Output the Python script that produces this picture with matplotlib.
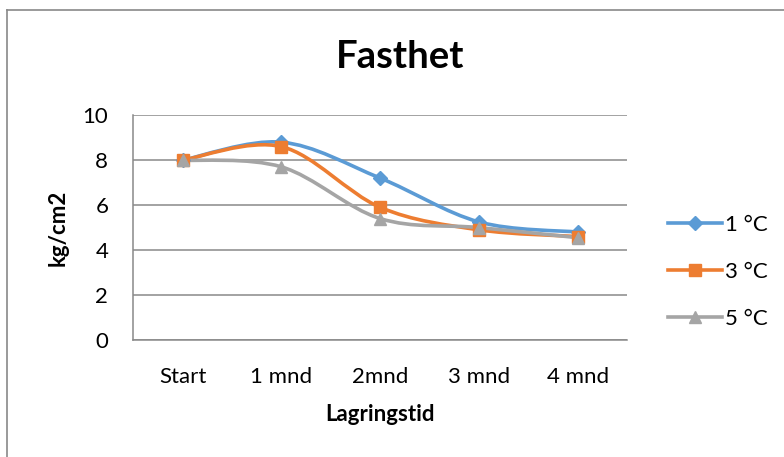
import matplotlib.pyplot as plt
import numpy as np
from matplotlib.path import Path
from matplotlib.patches import PathPatch
from matplotlib.lines import Line2D

plt.rcParams['font.family'] = ['Lato', 'DejaVu Sans']

categories = ['Start', '1 mnd', '2mnd', '3 mnd', '4 mnd']
temp_1 = [8.0, 8.8, 7.2, 5.25, 4.8]
temp_3 = [8.0, 8.6, 5.9, 4.9, 4.6]
temp_5 = [8.0, 7.7, 5.4, 5.0, 4.55]
labels = ['1 °C', '3 °C', '5 °C']
colors = ['#5B9BD5', '#ED7D31', '#A5A5A5']
markers = ['D', 's', '^']
msizes = [7.5, 8.5, 9]


def smooth_path(xs, ys):
    # excel style smoothing: catmull-rom as cubic beziers
    pts = np.column_stack([xs, ys]).astype(float)
    ext = np.vstack([pts[0], pts, pts[-1]])
    verts = [pts[0]]
    codes = [Path.MOVETO]
    for i in range(len(pts) - 1):
        p0, p1, p2, p3 = ext[i], ext[i + 1], ext[i + 2], ext[i + 3]
        c1 = p1 + (p2 - p0) / 6
        c2 = p2 - (p3 - p1) / 6
        verts += [c1, c2, p2]
        codes += [Path.CURVE4] * 3
    return Path(verts, codes)


def main():
    fig = plt.figure(figsize=(7.84, 4.57), dpi=100)
    ax = fig.add_axes([0.170, 0.256, 0.630, 0.492])

    x = np.arange(len(categories))
    series = [temp_1, temp_3, temp_5]
    handles = []
    for s, lab, c, m, ms in zip(series, labels, colors, markers, msizes):
        patch = PathPatch(smooth_path(x, s), facecolor='none', edgecolor=c,
                          lw=2.6, capstyle='round', joinstyle='round', zorder=3)
        ax.add_patch(patch)
        ax.plot(x, s, linestyle='none', marker=m, ms=ms, color=c, zorder=4)
        handles.append(Line2D([], [], color=c, lw=2.6, marker=m, ms=ms))

    ax.set_xlim(-0.5, len(categories) - 0.5)
    ax.set_ylim(0, 10)
    ax.set_yticks(range(0, 11, 2))
    ax.set_xticks(x)
    ax.set_xticklabels(categories)
    ax.tick_params(axis='both', length=0, labelsize=16, colors='black')
    ax.tick_params(axis='y', pad=18)
    ax.tick_params(axis='x', pad=19.5)
    ax.grid(axis='y', color='#898989', lw=1.1)
    ax.set_axisbelow(True)
    for side in ['top', 'right']:
        ax.spines[side].set_visible(False)
    for side in ['left', 'bottom']:
        ax.spines[side].set_color('#898989')
        ax.spines[side].set_linewidth(1.1)

    ax.set_xlabel('Lagringstid', fontsize=16, fontweight='bold', labelpad=12)
    ax.set_ylabel('kg/cm2', fontsize=16, fontweight='bold', labelpad=10)
    fig.text(0.511, 0.875, 'Fasthet', fontsize=27.5, fontweight='bold',
             ha='center', va='center')

    fig.legend(handles, labels, loc='center left', bbox_to_anchor=(0.826, 0.405),
               frameon=False, fontsize=16, handlelength=2.45, handletextpad=0.15,
               labelspacing=1.2)

    # chart border (only top and left visible)
    fig.add_artist(Line2D([7 / 784, 7 / 784], [0, 1 - 10 / 457], transform=fig.transFigure,
                          color='#898989', lw=1.2))
    fig.add_artist(Line2D([7 / 784, 1], [1 - 10 / 457, 1 - 10 / 457], transform=fig.transFigure,
                          color='#898989', lw=1.2))

    fig.savefig('out.png', dpi=100)


if __name__ == '__main__':
    main()
